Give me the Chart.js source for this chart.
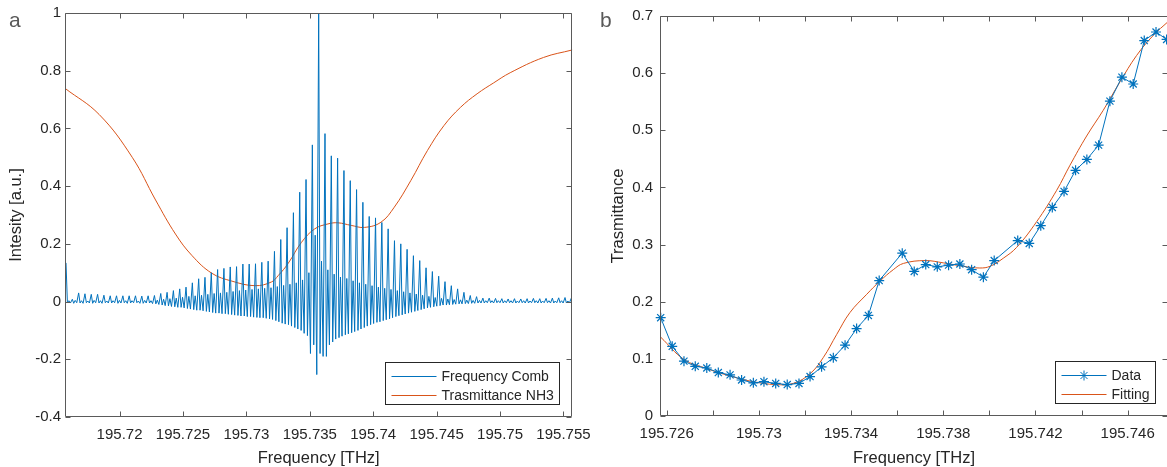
<!DOCTYPE html>
<html>
<head>
<meta charset="utf-8">
<script src="https://cdn.jsdelivr.net/npm/chart.js@4.4.0/dist/chart.umd.min.js"></script>
<style>
  html, body { margin: 0; padding: 0; background: #fff; overflow: hidden; }
  body { width: 1167px; height: 467px; position: relative; }
  #chartA { position: absolute; left: 0; top: 0; }
  #chartB { position: absolute; left: 585px; top: 0; }
</style>
</head>
<body>
<canvas id="chartA" width="600" height="467"></canvas>
<canvas id="chartB" width="583" height="467"></canvas>
<script>
const BLUE = '#0072BD';
const ORANGE = '#D95319';
const AXIS = '#5a5a5a';
const TEXT = '#262626';
const FONT = "'Liberation Sans', Arial, Helvetica, sans-serif";

// ---- panel a : frequency comb ----
// comb lines are evenly spaced, one value per line
const combStart = 195.71578;
const combSpacing = 0.000498;
const combPeak = [
  0.134, 0.008, 0.030, 0.027, 0.025, 0.025, 0.022, 0.020, 0.020, 0.020,
  0.020, 0.020, 0.019, 0.020, 0.021, 0.028, 0.032, 0.038, 0.044, 0.050,
  0.065, 0.079, 0.084, 0.100, 0.111, 0.115, 0.120, 0.121, 0.130, 0.130,
  0.131, 0.136, 0.140, 0.174, 0.215, 0.256, 0.308, 0.379, 0.423, 0.543,
  1.000, 0.582, 0.505, 0.497, 0.454, 0.419, 0.388, 0.344, 0.295, 0.290,
  0.274, 0.252, 0.211, 0.200, 0.181, 0.159, 0.142, 0.117, 0.104, 0.088,
  0.069, 0.055, 0.044, 0.032, 0.021, 0.017, 0.012, 0.012, 0.011, 0.010,
  0.009, 0.010, 0.009, 0.010, 0.011, 0.010, 0.011, 0.012, 0.013, 0.014, 0.012
];
// ripple between neighbouring lines: first dip, small bump, second dip
const combLowA = [
  -0.004, -0.006, -0.005, -0.004, -0.006, -0.005, -0.004, -0.005, -0.006, -0.004,
  -0.005, -0.004, -0.006, -0.005, -0.008, -0.012, -0.015, -0.018, -0.020, -0.024,
  -0.028, -0.030, -0.034, -0.038, -0.040, -0.042, -0.045, -0.048, -0.050, -0.052,
  -0.055, -0.056, -0.060, -0.066, -0.075, -0.080, -0.090, -0.100, -0.118, -0.150,
  -0.180, -0.190, -0.140, -0.125, -0.115, -0.108, -0.100, -0.090, -0.080, -0.072,
  -0.066, -0.060, -0.052, -0.046, -0.040, -0.034, -0.028, -0.022, -0.018, -0.014,
  -0.012, -0.010, -0.008, -0.007, -0.006, -0.005, -0.005, -0.004, -0.004, -0.005,
  -0.004, -0.005, -0.004, -0.005, -0.004, -0.005, -0.004, -0.005, -0.004, -0.005
];
const combMid = [
  0.003, 0.004, 0.003, 0.002, 0.004, 0.003, 0.002, 0.003, 0.004, 0.003,
  0.003, 0.002, 0.004, 0.003, 0.005, 0.008, 0.010, 0.012, 0.015, 0.018,
  0.020, 0.022, 0.025, 0.028, 0.030, 0.032, 0.035, 0.038, 0.040, 0.042,
  0.044, 0.046, 0.048, 0.052, 0.056, 0.060, 0.065, 0.075, 0.100, 0.230,
  0.140, 0.110, 0.095, 0.085, 0.080, 0.072, 0.065, 0.060, 0.055, 0.050,
  0.046, 0.042, 0.038, 0.034, 0.030, 0.026, 0.022, 0.018, 0.014, 0.011,
  0.009, 0.007, 0.006, 0.005, 0.004, 0.004, 0.003, 0.003, 0.003, 0.003,
  0.003, 0.002, 0.003, 0.002, 0.003, 0.002, 0.003, 0.002, 0.003, 0.002
];
const combLowB = [
  -0.005, -0.004, -0.006, -0.005, -0.004, -0.006, -0.005, -0.004, -0.005, -0.006,
  -0.004, -0.006, -0.005, -0.007, -0.010, -0.014, -0.017, -0.020, -0.022, -0.026,
  -0.030, -0.032, -0.036, -0.040, -0.042, -0.044, -0.047, -0.050, -0.052, -0.054,
  -0.056, -0.058, -0.062, -0.070, -0.078, -0.085, -0.095, -0.110, -0.180, -0.253,
  -0.190, -0.150, -0.130, -0.120, -0.112, -0.104, -0.095, -0.085, -0.076, -0.070,
  -0.063, -0.056, -0.049, -0.043, -0.037, -0.031, -0.025, -0.020, -0.016, -0.012,
  -0.011, -0.009, -0.008, -0.007, -0.006, -0.005, -0.004, -0.005, -0.004, -0.004,
  -0.005, -0.004, -0.005, -0.004, -0.005, -0.004, -0.005, -0.004, -0.005, -0.004
];

const nh3Freq = [
  195.7157, 195.7184, 195.7210, 195.72284, 195.72441, 195.7257, 195.72728,
  195.72885, 195.73068, 195.73198, 195.73251, 195.73329, 195.73434, 195.73539,
  195.73643, 195.73721, 195.73826, 195.73931, 195.74061, 195.74166, 195.74296,
  195.74427, 195.74558, 195.74688, 195.74819, 195.7495, 195.7508, 195.75343, 195.7557
];
const nh3Trans = [
  0.739, 0.648, 0.500, 0.352, 0.234, 0.160, 0.098,
  0.071, 0.055, 0.068, 0.090, 0.132, 0.205, 0.252,
  0.269, 0.273, 0.264, 0.257, 0.275, 0.327, 0.419,
  0.523, 0.610, 0.673, 0.720, 0.758, 0.793, 0.846, 0.872
];

const freqTicksA = [195.72, 195.725, 195.73, 195.735, 195.74, 195.745, 195.75, 195.755];
const freqLabelsA = ['195.72', '195.725', '195.73', '195.735', '195.74', '195.745', '195.75', '195.755'];
const intensityTicks = [-0.4, -0.2, 0, 0.2, 0.4, 0.6, 0.8, 1];
const intensityLabels = ['-0.4', '-0.2', '0', '0.2', '0.4', '0.6', '0.8', '1'];

// ---- panel b : measured transmittance and fit ----
const dataFreq = [
  195.72574, 195.72624, 195.72675, 195.72724, 195.72774, 195.72824, 195.72875,
  195.72925, 195.72976, 195.73022, 195.73073, 195.73123, 195.73174, 195.73222,
  195.73272, 195.73323, 195.73374, 195.73424, 195.73475, 195.73522, 195.73622,
  195.73674, 195.73724, 195.73774, 195.73823, 195.73872, 195.73923, 195.73974,
  195.74021, 195.74123, 195.74173, 195.74223, 195.74273, 195.74324, 195.74374,
  195.74423, 195.74474, 195.74523, 195.74575, 195.74624, 195.74672, 195.74723, 195.74769
];
const dataTrans = [
  0.172, 0.122, 0.096, 0.087, 0.084, 0.076, 0.072,
  0.063, 0.058, 0.060, 0.057, 0.055, 0.057, 0.069,
  0.086, 0.102, 0.124, 0.153, 0.176, 0.237, 0.285,
  0.253, 0.265, 0.261, 0.264, 0.266, 0.256, 0.243,
  0.272, 0.307, 0.302, 0.333, 0.365, 0.393, 0.430,
  0.449, 0.474, 0.551, 0.593, 0.581, 0.657, 0.672, 0.659
];
const fitFreq = [
  195.72574, 195.72675, 195.72774, 195.72875, 195.72976, 195.73073, 195.73149,
  195.73222, 195.73279, 195.73338, 195.73395, 195.73468, 195.73525, 195.73583,
  195.73627, 195.73721, 195.738, 195.73887, 195.73959, 195.74003, 195.7406,
  195.74118, 195.74205, 195.74292, 195.7435, 195.74422, 195.74494, 195.74567,
  195.74639, 195.74711, 195.74775
];
const fitTrans = [
  0.138, 0.099, 0.083, 0.070, 0.060, 0.055, 0.057,
  0.074, 0.102, 0.143, 0.181, 0.213, 0.236, 0.256,
  0.267, 0.272, 0.268, 0.262, 0.259, 0.262, 0.276,
  0.295, 0.340, 0.395, 0.439, 0.490, 0.535, 0.585,
  0.631, 0.666, 0.690
];

const freqTicksB = [195.726, 195.728, 195.73, 195.732, 195.734, 195.736, 195.738, 195.74, 195.742, 195.744, 195.746];
const freqLabelsB = ['195.726', '', '195.73', '', '195.734', '', '195.738', '', '195.742', '', '195.746'];
const transTicks = [0, 0.1, 0.2, 0.3, 0.4, 0.5, 0.6, 0.7];
const transLabels = ['0', '0.1', '0.2', '0.3', '0.4', '0.5', '0.6', '0.7'];

Chart.defaults.font.family = FONT;
Chart.defaults.color = TEXT;

function combPoints() {
    const pts = [];
    for (let k = 0; k < combPeak.length; k++) {
        const f = combStart + k * combSpacing;
        pts.push({ x: f, y: combPeak[k] });
        if (k < combLowA.length) {
            pts.push({ x: f + 0.22 * combSpacing, y: combLowA[k] });
            pts.push({ x: f + 0.45 * combSpacing, y: combMid[k] });
            pts.push({ x: f + 0.70 * combSpacing, y: combLowB[k] });
        }
    }
    return pts;
}

function pairs(xs, ys) {
    return xs.map((x, i) => ({ x: x, y: ys[i] }));
}

// matlab-like box: frame, inward ticks on all sides, titles, legend
const matlabFrame = {
    id: 'matlabFrame',
    afterDatasetsDraw(chart, args, o) {
        const { ctx, chartArea: a } = chart;
        const xs = chart.scales.x, ys = chart.scales.y;
        const L = Math.round(a.left) + 0.5, R = Math.round(a.right) - 0.5;
        const T = Math.round(a.top) + 0.5, B = Math.round(a.bottom) - 0.5;
        ctx.save();
        ctx.strokeStyle = AXIS;
        ctx.lineWidth = 1;
        ctx.beginPath();
        ctx.rect(L, T, R - L, B - T);
        xs.ticks.forEach(t => {
            const p = Math.round(xs.getPixelForValue(t.value)) + 0.5;
            ctx.moveTo(p, B); ctx.lineTo(p, B - 5);
            ctx.moveTo(p, T); ctx.lineTo(p, T + 5);
        });
        ys.ticks.forEach(t => {
            const p = Math.round(ys.getPixelForValue(t.value)) + 0.5;
            ctx.moveTo(L, p); ctx.lineTo(L + 5, p);
            ctx.moveTo(R, p); ctx.lineTo(R - 5, p);
        });
        ctx.stroke();

        // legend, bottom right inside the axes
        ctx.font = '14px ' + FONT;
        const tw = Math.max(...o.legend.map(it => ctx.measureText(it.text).width));
        const w = Math.round(56 + tw + 6), h = 42;
        const bx = Math.round(a.right - 13 - w) + 0.5, by = Math.round(a.bottom - 13 - h) + 0.5;
        ctx.fillStyle = '#fff';
        ctx.fillRect(bx, by, w, h);
        ctx.strokeStyle = TEXT;
        ctx.strokeRect(bx, by, w, h);
        o.legend.forEach((it, i) => {
            const cy = Math.round(by + 13 + i * 19.5) + 0.5;
            ctx.strokeStyle = it.color;
            ctx.lineWidth = 1;
            ctx.beginPath();
            ctx.moveTo(bx + 6, cy); ctx.lineTo(bx + 51, cy);
            ctx.stroke();
            if (it.marker) {
                ctx.fillStyle = it.color;
                Chart.helpers.drawPoint(ctx, { pointStyle: 'star', radius: 5, borderWidth: 1.2, rotation: 0 }, bx + 28.5, cy);
            }
            ctx.fillStyle = TEXT;
            ctx.textAlign = 'left';
            ctx.textBaseline = 'middle';
            ctx.fillText(it.text, bx + 56, cy + 0.5);
        });

        // axis titles
        ctx.fillStyle = TEXT;
        ctx.font = '16.5px ' + FONT;
        ctx.textAlign = 'center';
        ctx.textBaseline = 'alphabetic';
        ctx.fillText(o.xTitle, (a.left + a.right) / 2, o.xTitleY);
        ctx.save();
        ctx.translate(o.yTitleX, (a.top + a.bottom) / 2);
        ctx.rotate(-Math.PI / 2);
        ctx.fillText(o.yTitle, 0, 0);
        ctx.restore();

        // panel letter
        ctx.fillStyle = '#595959';
        ctx.font = '21px ' + FONT;
        ctx.textAlign = 'left';
        ctx.fillText(o.panel, o.panelX, o.panelY);
        ctx.restore();
    }
};

function axisX(min, max, ticks, labels, height, pad) {
    return {
        type: 'linear', min: min, max: max,
        grid: { display: false, drawTicks: false },
        border: { display: false },
        afterBuildTicks: s => { s.ticks = ticks.map(v => ({ value: v })); },
        afterFit: s => { s.height = height; },
        ticks: {
            color: TEXT, font: { size: 15 }, padding: pad,
            maxRotation: 0, autoSkip: false,
            callback: (v, i) => labels[i]
        }
    };
}

function axisY(min, max, ticks, labels, width, pad) {
    return {
        type: 'linear', min: min, max: max,
        grid: { display: false, drawTicks: false },
        border: { display: false },
        afterBuildTicks: s => { s.ticks = ticks.map(v => ({ value: v })); },
        afterFit: s => { s.width = width; },
        ticks: {
            color: TEXT, font: { size: 15 }, padding: pad,
            autoSkip: false,
            callback: (v, i) => labels[i]
        }
    };
}

new Chart(document.getElementById('chartA'), {
    type: 'line',
    data: {
        datasets: [{
            label: 'Frequency Comb',
            data: combPoints(),
            borderColor: BLUE,
            borderWidth: 1,
            pointRadius: 0,
            tension: 0
        }, {
            label: 'Trasmittance NH3',
            data: pairs(nh3Freq, nh3Trans),
            borderColor: ORANGE,
            borderWidth: 1,
            pointRadius: 0,
            tension: 0.4
        }]
    },
    options: {
        responsive: false,
        animation: false,
        events: [],
        layout: { autoPadding: false, padding: { top: 12, right: 24, bottom: 0, left: 0 } },
        plugins: {
            legend: { display: false },
            tooltip: { enabled: false },
            matlabFrame: {
                panel: 'a', panelX: 9, panelY: 27,
                xTitle: 'Frequency [THz]', xTitleY: 462.5,
                yTitle: 'Intesity [a.u.]', yTitleX: 21,
                legend: [
                    { text: 'Frequency Comb', color: BLUE },
                    { text: 'Trasmittance NH3', color: ORANGE }
                ]
            }
        },
        scales: {
            x: axisX(195.7157, 195.7557, freqTicksA, freqLabelsA, 50, 9),
            y: axisY(-0.4, 1, intensityTicks, intensityLabels, 65, 4)
        }
    },
    plugins: [matlabFrame]
});

new Chart(document.getElementById('chartB'), {
    type: 'line',
    data: {
        datasets: [{
            label: 'Data',
            data: pairs(dataFreq, dataTrans),
            borderColor: BLUE,
            backgroundColor: BLUE,
            borderWidth: 1,
            pointStyle: 'star',
            pointRadius: 5,
            pointBorderWidth: 1.2,
            tension: 0,
            clip: false
        }, {
            label: 'Fitting',
            data: pairs(fitFreq, fitTrans),
            borderColor: ORANGE,
            borderWidth: 1,
            pointRadius: 0,
            tension: 0.4
        }]
    },
    options: {
        responsive: false,
        animation: false,
        events: [],
        layout: { autoPadding: false, padding: { top: 14, right: 0, bottom: 0, left: 0 } },
        plugins: {
            legend: { display: false },
            tooltip: { enabled: false },
            matlabFrame: {
                panel: 'b', panelX: 15, panelY: 27,
                xTitle: 'Frequency [THz]', xTitleY: 462.5,
                yTitle: 'Trasmittance', yTitleX: 38,
                legend: [
                    { text: 'Data', color: BLUE, marker: true },
                    { text: 'Fitting', color: ORANGE }
                ]
            }
        },
        scales: {
            x: axisX(195.72571, 195.74775, freqTicksB, freqLabelsB, 51, 9),
            y: axisY(0, 0.7, transTicks, transLabels, 75, 7)
        }
    },
    plugins: [matlabFrame]
});
</script>
</body>
</html>
